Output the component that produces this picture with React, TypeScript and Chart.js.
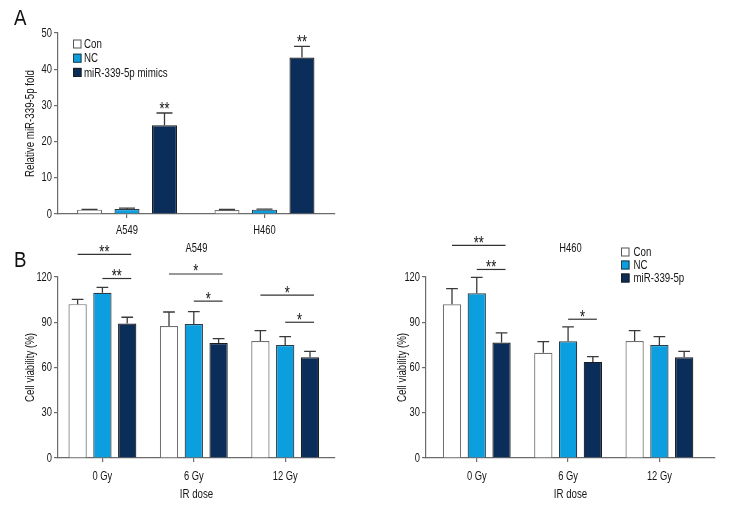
import React, { useEffect, useRef } from "react";
import { Chart, registerables } from "chart.js";

Chart.register(...registerables);

const FONT = '"Liberation Sans", Arial, sans-serif';
const FS = 13;
const CONDENSE = 0.72;
const TEXT = "#151515";
const AXIS = "#6b6b6b";
const CON_FILL = "#ffffff";
const CON_BORDER = "#707070";
const NC_FILL = "#0b9fe0";
const NC_BORDER = "#2b3a44";
const MIR_FILL = "#0b2d59";
const MIR_BORDER = "#1c1c1c";

// ---------- Panel A ----------
const cellLines = ["A549", "H460"];
const foldTicks = [0, 10, 20, 30, 40, 50];
const foldCon = [1.2, 1.1];
const foldConErr = [0.1, 0.15];
const foldNC = [1.35, 1.2];
const foldNCErr = [0.3, 0.15];
const foldMimics = [24.5, 43.2];
const foldMimicsErr = [3.4, 3.1];
const foldLegend = ["Con", "NC", "miR-339-5p mimics"];
const foldStars = [
  { cat: 0, bar: 2, text: "**" },
  { cat: 1, bar: 2, text: "**" },
];

// ---------- Panel B ----------
const doses = ["0 Gy", "6 Gy", "12 Gy"];
const viabilityTicks = [0, 30, 60, 90, 120];
const a549Con = [102, 87.5, 77.6];
const a549ConErr = [3.2, 9.3, 6.8];
const a549NC = [109.5, 88.8, 74.9];
const a549NCErr = [3.6, 8.3, 5.6];
const a549Mir = [89.1, 76.2, 66.8];
const a549MirErr = [4.2, 3.0, 3.9];
const h460Con = [101.9, 69.8, 77.6];
const h460ConErr = [10.4, 7.3, 6.8];
const h460NC = [109.2, 77.4, 74.9];
const h460NCErr = [10.6, 9.5, 5.6];
const h460Mir = [76.5, 63.7, 66.8];
const h460MirErr = [6.4, 3.5, 3.9];
const viabilityLegend = ["Con", "NC", "miR-339-5p"];
const a549Brackets = [
  { cat: 0, from: 0, to: 2, level: 135, text: "**" },
  { cat: 0, from: 1, to: 2, level: 119, text: "**" },
  { cat: 1, from: 0, to: 2, level: 122, text: "*" },
  { cat: 1, from: 1, to: 2, level: 104, text: "*" },
  { cat: 2, from: 0, to: 2, level: 108, text: "*" },
  { cat: 2, from: 1, to: 2, level: 90, text: "*" },
];
const h460Brackets = [
  { cat: 0, from: 0, to: 2, level: 141, text: "**" },
  { cat: 0, from: 1, to: 2, level: 125, text: "**" },
  { cat: 1, from: 1, to: 2, level: 92, text: "*" },
];

const fills = [CON_FILL, NC_FILL, MIR_FILL];
const borders = [CON_BORDER, NC_BORDER, MIR_BORDER];

type Star = { cat: number; bar: number; text: string };
type Bracket = { cat: number; from: number; to: number; level: number; text: string };
type Annot = {
  stars?: Star[];
  brackets?: Bracket[];
  title?: string;
  legend?: { labels: string[]; dx: number; dy: number; gap: number; textGap: number };
};

function font(size: number) {
  return `${size}px ${FONT}`;
}

// draw all canvas text horizontally condensed (the source figure uses a condensed face)
function condense(canvas: HTMLCanvasElement, k: number) {
  const ctx = canvas.getContext("2d") as any;
  if (ctx.__condensed) return;
  const orig = ctx.fillText.bind(ctx);
  ctx.fillText = (text: string, x: number, y: number, maxWidth?: number) => {
    ctx.save();
    ctx.translate(x, y);
    ctx.scale(k, 1);
    if (maxWidth === undefined || maxWidth === null) orig(text, 0, 0);
    else orig(text, 0, 0, maxWidth / k);
    ctx.restore();
  };
  ctx.__condensed = true;
}

function annotPlugin(cfg: Annot) {
  return {
    id: "annot",
    afterDatasetsDraw(chart: any) {
      const ctx = chart.ctx;
      const ys = chart.scales.y;
      const area = chart.chartArea;
      const getBar = (ds: number, i: number) =>
        chart.getDatasetMeta(ds).data[i].getProps(["x", "y", "width"], true);
      // error bars
      chart.data.datasets.forEach((ds: any, di: number) => {
        ds.data.forEach((v: number, i: number) => {
          const b = getBar(di, i);
          const top = ys.getPixelForValue(v + ds.errors[i]);
          const half = b.width * 0.32;
          ctx.save();
          ctx.strokeStyle = "#3a3a3a";
          ctx.lineWidth = 1.3;
          ctx.beginPath();
          ctx.moveTo(b.x, b.y);
          ctx.lineTo(b.x, top);
          ctx.moveTo(b.x - half, top);
          ctx.lineTo(b.x + half, top);
          ctx.stroke();
          ctx.restore();
        });
      });
      ctx.save();
      ctx.fillStyle = TEXT;
      ctx.strokeStyle = "#333";
      ctx.lineWidth = 1.2;
      // stars over bars
      (cfg.stars || []).forEach((s) => {
        const ds = chart.data.datasets[s.bar];
        const b = getBar(s.bar, s.cat);
        const top = ys.getPixelForValue(ds.data[s.cat] + ds.errors[s.cat]);
        ctx.font = font(18);
        ctx.textAlign = "center";
        ctx.textBaseline = "alphabetic";
        ctx.fillText(s.text, b.x, top + 2);
      });
      // brackets
      (cfg.brackets || []).forEach((br) => {
        const b1 = getBar(br.from, br.cat);
        const b2 = getBar(br.to, br.cat);
        const x1 = b1.x;
        const x2 = b2.x + 4;
        const y = ys.getPixelForValue(br.level);
        ctx.beginPath();
        ctx.moveTo(x1, y);
        ctx.lineTo(x2, y);
        ctx.stroke();
        ctx.font = font(18);
        ctx.textAlign = "center";
        ctx.textBaseline = "alphabetic";
        ctx.fillText(br.text, (x1 + x2) / 2, y + 3.5);
      });
      // title
      if (cfg.title) {
        ctx.font = font(FS);
        ctx.textAlign = "center";
        ctx.textBaseline = "middle";
        ctx.fillText(cfg.title, (area.left + area.right) / 2, area.top - 29);
      }
      // legend
      if (cfg.legend) {
        const lg = cfg.legend;
        lg.labels.forEach((lab, i) => {
          const cy = area.top + lg.dy + i * lg.gap;
          const bx = area.left + lg.dx;
          ctx.fillStyle = fills[i];
          ctx.fillRect(bx, cy - 4.5, 8.5, 9);
          ctx.strokeStyle = i === 0 ? "#555" : borders[i];
          ctx.lineWidth = 1;
          ctx.strokeRect(bx + 0.5, cy - 4, 7.5, 8);
          ctx.fillStyle = TEXT;
          ctx.font = font(FS + 0.5);
          ctx.textAlign = "left";
          ctx.textBaseline = "middle";
          ctx.fillText(lab, bx + lg.textGap, cy + 0.5);
        });
      }
      ctx.restore();
    },
  };
}

type BuildOpts = {
  cats: string[];
  series: { label: string; data: number[]; errors: number[] }[];
  yTicks: number[];
  yTitle: string;
  xTitle?: string;
  xMin: number;
  xMax: number;
  padding: { left: number; top: number; right: number; bottom: number };
  yWidth: number;
  xHeight: number;
  xTickPad: number;
  catPct: number;
  barPct: number;
  annot: Annot;
};

function build(canvas: HTMLCanvasElement, o: BuildOpts) {
  condense(canvas, CONDENSE);
  const tickFont = { family: FONT, size: FS };
  return new Chart(canvas, {
    type: "bar",
    data: {
      labels: o.cats.map((_, i) => i) as any,
      datasets: o.series.map((s, i) => ({
        label: s.label,
        data: s.data,
        errors: s.errors,
        backgroundColor: fills[i],
        borderColor: borders[i],
        borderWidth: 1.2,
        categoryPercentage: o.catPct,
        barPercentage: o.barPct,
      })) as any,
    },
    options: {
      responsive: false,
      animation: false,
      devicePixelRatio: 1,
      layout: { padding: o.padding },
      plugins: { legend: { display: false }, tooltip: { enabled: false }, title: { display: false } },
      scales: {
        x: {
          type: "linear",
          min: o.xMin,
          max: o.xMax,
          offset: false,
          bounds: "data",
          afterBuildTicks: (s: any) => {
            s.ticks = o.cats.map((_, i) => ({ value: i }));
          },
          afterFit: (s: any) => {
            s.height = o.xHeight;
          },
          ticks: {
            callback: (v: any) => o.cats[v] ?? "",
            font: tickFont,
            color: TEXT,
            padding: o.xTickPad,
            autoSkip: false,
            maxRotation: 0,
          },
          grid: { drawOnChartArea: false, drawTicks: true, tickLength: 4, color: AXIS, offset: false, lineWidth: 1.2 },
          border: { color: AXIS, width: 1.2 },
          title: {
            display: !!o.xTitle,
            text: o.xTitle || "",
            font: { family: FONT, size: FS + 0.5 },
            color: TEXT,
            padding: { top: 1, bottom: 0 },
          },
        },
        y: {
          type: "linear",
          min: o.yTicks[0],
          max: o.yTicks[o.yTicks.length - 1],
          afterBuildTicks: (s: any) => {
            s.ticks = o.yTicks.map((v) => ({ value: v }));
          },
          afterFit: (s: any) => {
            s.width = o.yWidth;
          },
          ticks: { font: tickFont, color: TEXT, padding: 2 },
          grid: { drawOnChartArea: false, drawTicks: true, tickLength: 4, color: AXIS, lineWidth: 1.2 },
          border: { color: AXIS, width: 1.2 },
          title: {
            display: true,
            text: o.yTitle,
            font: { family: FONT, size: FS + 0.5 },
            color: TEXT,
            padding: { top: 3, bottom: 0 },
          },
        },
      },
    } as any,
    plugins: [annotPlugin(o.annot)],
  });
}

export default function App() {
  const refA = useRef<HTMLCanvasElement>(null);
  const refB1 = useRef<HTMLCanvasElement>(null);
  const refB2 = useRef<HTMLCanvasElement>(null);

  useEffect(() => {
    const charts: Chart[] = [];
    charts.push(
      build(refA.current!, {
        cats: cellLines,
        series: [
          { label: foldLegend[0], data: foldCon, errors: foldConErr },
          { label: foldLegend[1], data: foldNC, errors: foldNCErr },
          { label: foldLegend[2], data: foldMimics, errors: foldMimicsErr },
        ],
        yTicks: foldTicks,
        yTitle: "Relative miR-339-5p fold",
        xMin: -0.502,
        xMax: 1.513,
        padding: { left: 19, top: 33, right: 45, bottom: 0 },
        yWidth: 39,
        xHeight: 26,
        xTickPad: 5,
        catPct: 0.818,
        barPct: 0.667,
        annot: {
          stars: foldStars,
          legend: { labels: foldLegend, dx: 15, dy: 11, gap: 14.2, textGap: 11 },
        },
      })
    );
    charts.push(
      build(refB1.current!, {
        cats: doses,
        series: [
          { label: viabilityLegend[0], data: a549Con, errors: a549ConErr },
          { label: viabilityLegend[1], data: a549NC, errors: a549NCErr },
          { label: viabilityLegend[2], data: a549Mir, errors: a549MirErr },
        ],
        yTicks: viabilityTicks,
        yTitle: "Cell viability (%)",
        xTitle: "IR dose",
        xMin: -0.486,
        xMax: 2.545,
        padding: { left: 19, top: 49, right: 45, bottom: 26 },
        yWidth: 39,
        xHeight: 44,
        xTickPad: 7,
        catPct: 0.814,
        barPct: 0.738,
        annot: { brackets: a549Brackets, title: "A549" },
      })
    );
    charts.push(
      build(refB2.current!, {
        cats: doses,
        series: [
          { label: viabilityLegend[0], data: h460Con, errors: h460ConErr },
          { label: viabilityLegend[1], data: h460NC, errors: h460NCErr },
          { label: viabilityLegend[2], data: h460Mir, errors: h460MirErr },
        ],
        yTicks: viabilityTicks,
        yTitle: "Cell viability (%)",
        xTitle: "IR dose",
        xMin: -0.556,
        xMax: 2.609,
        padding: { left: 11, top: 49, right: 17, bottom: 26 },
        yWidth: 35,
        xHeight: 44,
        xTickPad: 7,
        catPct: 0.814,
        barPct: 0.738,
        annot: {
          brackets: h460Brackets,
          title: "H460",
          legend: { labels: viabilityLegend, dx: 195, dy: -25, gap: 13, textGap: 12.5 },
        },
      })
    );
    return () => charts.forEach((c) => c.destroy());
  }, []);

  const letter: React.CSSProperties = {
    position: "absolute",
    left: 14,
    fontFamily: FONT,
    fontSize: 22,
    lineHeight: "22px",
    color: "#111",
    transform: "scaleX(0.85)",
    transformOrigin: "left top",
  };

  return (
    <div style={{ position: "absolute", left: 0, top: 0, width: 732, height: 528, background: "#fff", overflow: "hidden" }}>
      <canvas ref={refA} width={380} height={240} style={{ position: "absolute", left: 0, top: 0 }} />
      <canvas ref={refB1} width={380} height={300} style={{ position: "absolute", left: 0, top: 228 }} />
      <canvas ref={refB2} width={352} height={300} style={{ position: "absolute", left: 380, top: 228 }} />
      <div style={{ ...letter, top: 7 }}>A</div>
      <div style={{ ...letter, top: 249 }}>B</div>
    </div>
  );
}
